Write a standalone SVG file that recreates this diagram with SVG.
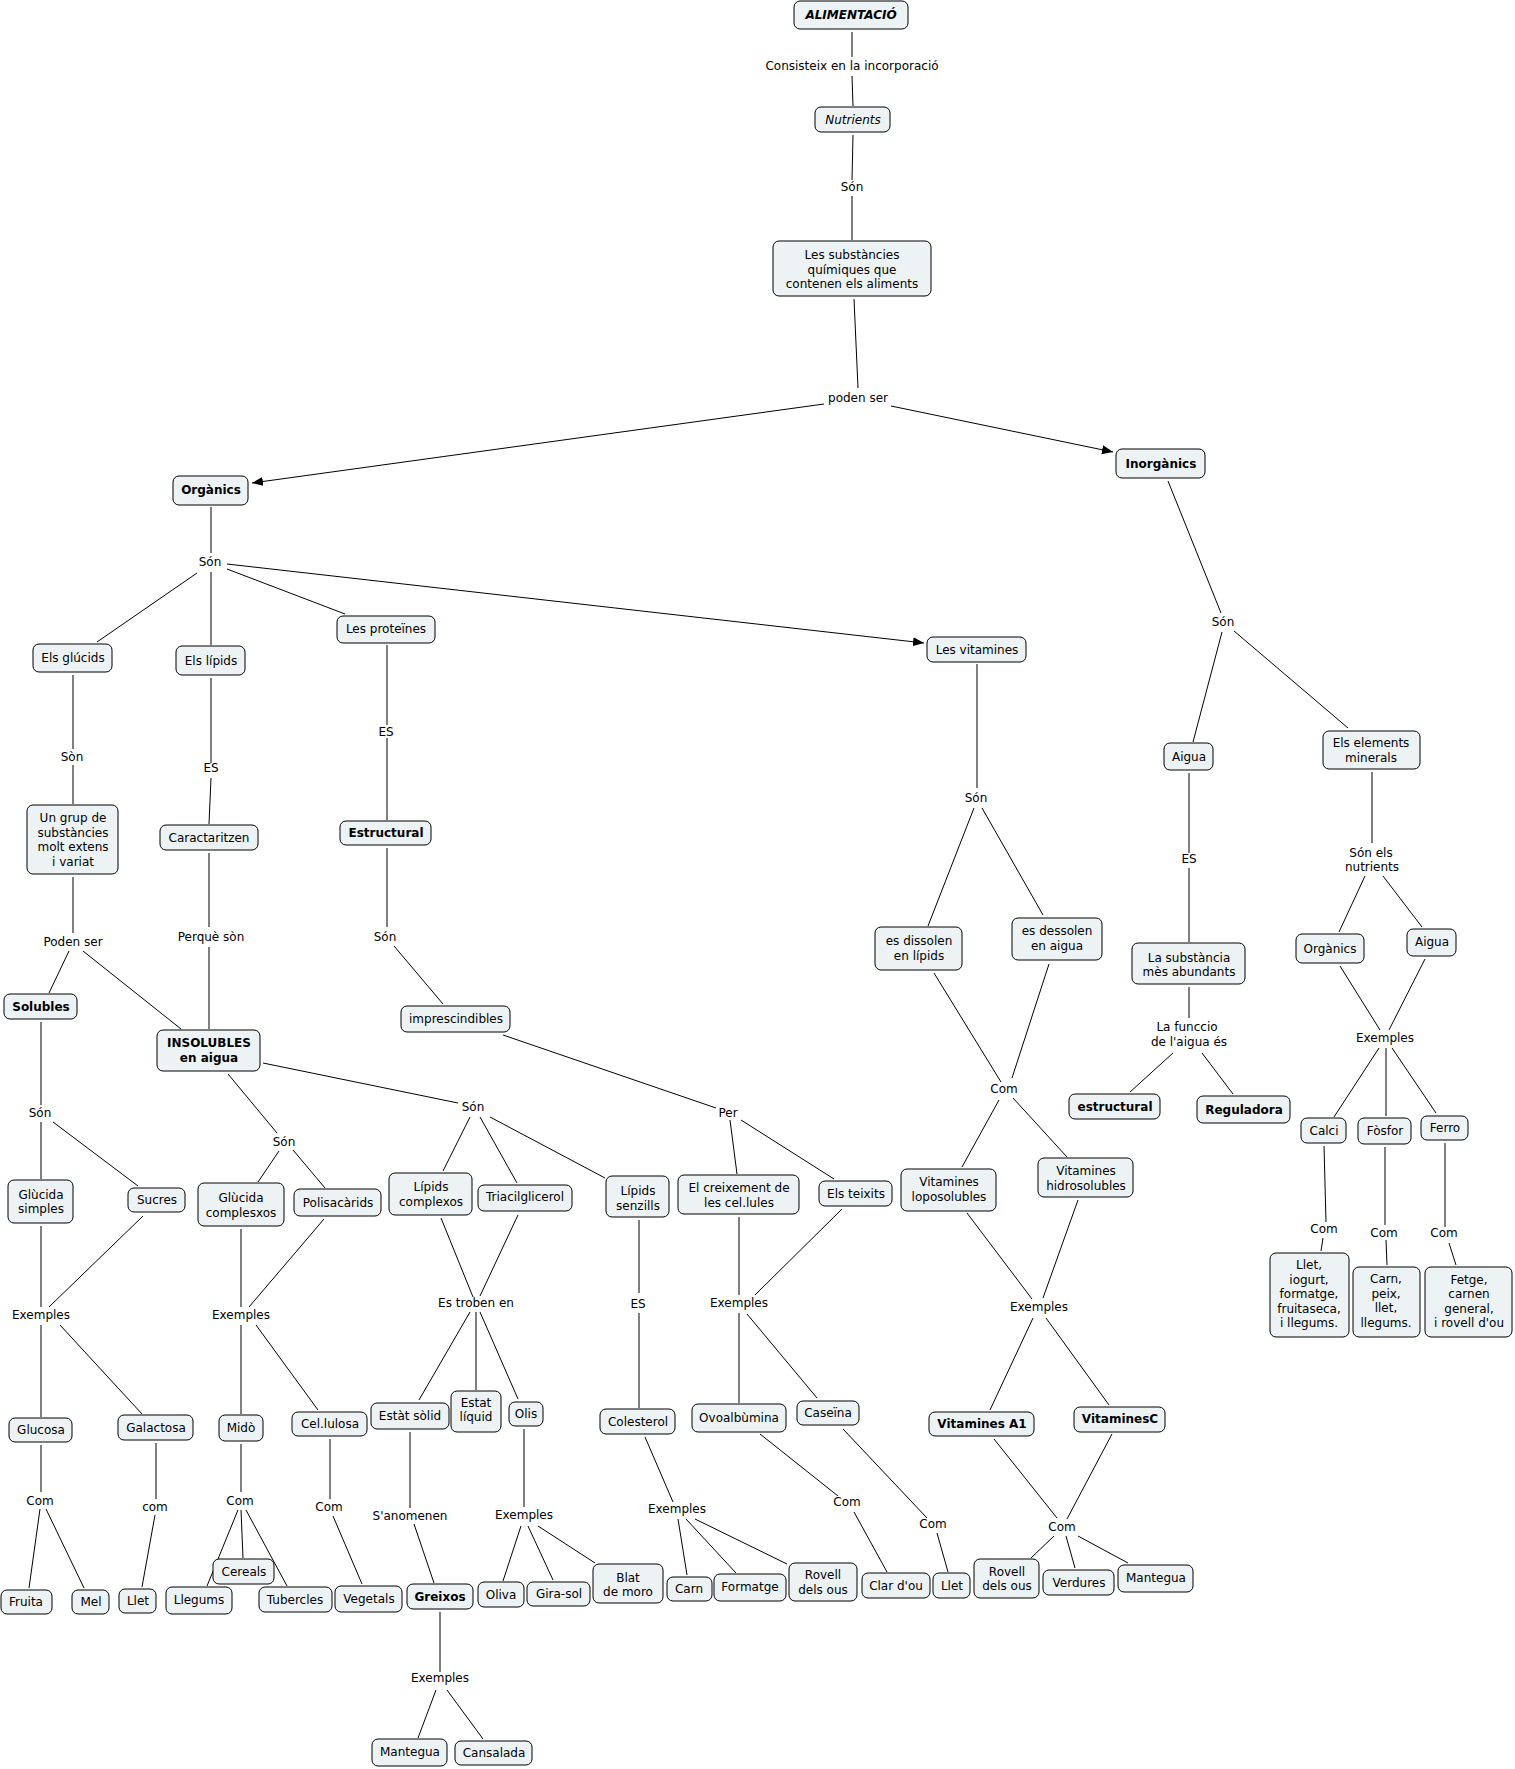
<svg xmlns="http://www.w3.org/2000/svg" width="1515" height="1769" viewBox="0 0 1515 1769">
<style>
.n rect{fill:#edf3f5;stroke:#000;stroke-width:1}
text{font-family:"DejaVu Sans",Verdana,sans-serif;font-size:12px;fill:#000;text-anchor:middle}
.b{font-weight:bold}
.i{font-style:italic}
#connectors line{stroke:#000;stroke-width:1;fill:none}
</style>
<defs>
<marker id="arr" markerUnits="userSpaceOnUse" markerWidth="12" markerHeight="10" refX="11" refY="4.5" orient="auto"><path d="M0,0 L11,4.5 L0,9 z" fill="#000"/></marker>
</defs>
<rect width="1515" height="1769" fill="#fff"/>
<g id="connectors">
<line x1="852" y1="32" x2="852" y2="57"/>
<line x1="852" y1="76" x2="853" y2="106"/>
<line x1="853" y1="135" x2="852" y2="180"/>
<line x1="852" y1="196" x2="852" y2="240"/>
<line x1="854" y1="299" x2="858" y2="388"/>
<line x1="824" y1="404" x2="252" y2="483" marker-end="url(#arr)"/>
<line x1="891" y1="406" x2="1113" y2="452" marker-end="url(#arr)"/>
<line x1="211" y1="507" x2="211" y2="553"/>
<line x1="197" y1="573" x2="97" y2="642"/>
<line x1="211" y1="572" x2="211" y2="645"/>
<line x1="227" y1="569" x2="345" y2="614"/>
<line x1="227" y1="564" x2="924" y2="643" marker-end="url(#arr)"/>
<line x1="73" y1="675" x2="73" y2="749"/>
<line x1="73" y1="765" x2="73" y2="804"/>
<line x1="211" y1="678" x2="211" y2="763"/>
<line x1="211" y1="778" x2="209" y2="824"/>
<line x1="387" y1="645" x2="387" y2="725"/>
<line x1="387" y1="738" x2="387" y2="820"/>
<line x1="73" y1="877" x2="73" y2="933"/>
<line x1="209" y1="853" x2="209" y2="927"/>
<line x1="387" y1="848" x2="387" y2="927"/>
<line x1="69" y1="951" x2="49" y2="993"/>
<line x1="83" y1="951" x2="181" y2="1029"/>
<line x1="209" y1="947" x2="209" y2="1029"/>
<line x1="394" y1="946" x2="443" y2="1004"/>
<line x1="41" y1="1022" x2="41" y2="1105"/>
<line x1="41" y1="1122" x2="41" y2="1179"/>
<line x1="53" y1="1122" x2="138" y2="1186"/>
<line x1="228" y1="1074" x2="277" y2="1133"/>
<line x1="279" y1="1151" x2="258" y2="1182"/>
<line x1="293" y1="1150" x2="325" y2="1188"/>
<line x1="263" y1="1063" x2="458" y2="1103"/>
<line x1="470" y1="1117" x2="443" y2="1171"/>
<line x1="480" y1="1117" x2="517" y2="1183"/>
<line x1="490" y1="1117" x2="605" y2="1178"/>
<line x1="503" y1="1035" x2="716" y2="1108"/>
<line x1="730" y1="1120" x2="737" y2="1174"/>
<line x1="741" y1="1120" x2="834" y2="1179"/>
<line x1="977" y1="664" x2="977" y2="788"/>
<line x1="974" y1="808" x2="928" y2="926"/>
<line x1="982" y1="808" x2="1043" y2="915"/>
<line x1="934" y1="973" x2="1001" y2="1082"/>
<line x1="1049" y1="964" x2="1012" y2="1078"/>
<line x1="999" y1="1100" x2="962" y2="1167"/>
<line x1="1013" y1="1098" x2="1067" y2="1157"/>
<line x1="1168" y1="481" x2="1221" y2="613"/>
<line x1="1222" y1="632" x2="1193" y2="742"/>
<line x1="1234" y1="631" x2="1348" y2="728"/>
<line x1="1189" y1="773" x2="1189" y2="853"/>
<line x1="1189" y1="868" x2="1189" y2="942"/>
<line x1="1372" y1="772" x2="1372" y2="843"/>
<line x1="1365" y1="876" x2="1339" y2="932"/>
<line x1="1383" y1="876" x2="1422" y2="927"/>
<line x1="1189" y1="987" x2="1189" y2="1018"/>
<line x1="1173" y1="1053" x2="1130" y2="1092"/>
<line x1="1202" y1="1053" x2="1233" y2="1094"/>
<line x1="1340" y1="966" x2="1380" y2="1030"/>
<line x1="1425" y1="959" x2="1389" y2="1030"/>
<line x1="1379" y1="1048" x2="1334" y2="1117"/>
<line x1="1386" y1="1048" x2="1386" y2="1116"/>
<line x1="1392" y1="1048" x2="1436" y2="1113"/>
<line x1="1324" y1="1146" x2="1326" y2="1222"/>
<line x1="1323" y1="1238" x2="1321" y2="1251"/>
<line x1="1385" y1="1147" x2="1385" y2="1225"/>
<line x1="1386" y1="1240" x2="1387" y2="1265"/>
<line x1="1445" y1="1143" x2="1445" y2="1227"/>
<line x1="1449" y1="1243" x2="1456" y2="1265"/>
<line x1="41" y1="1226" x2="41" y2="1307"/>
<line x1="143" y1="1216" x2="49" y2="1307"/>
<line x1="41" y1="1325" x2="41" y2="1417"/>
<line x1="60" y1="1325" x2="142" y2="1414"/>
<line x1="241" y1="1229" x2="241" y2="1307"/>
<line x1="324" y1="1219" x2="249" y2="1307"/>
<line x1="241" y1="1325" x2="241" y2="1414"/>
<line x1="256" y1="1325" x2="318" y2="1410"/>
<line x1="441" y1="1218" x2="473" y2="1297"/>
<line x1="518" y1="1215" x2="480" y2="1296"/>
<line x1="470" y1="1312" x2="419" y2="1400"/>
<line x1="476" y1="1312" x2="476" y2="1390"/>
<line x1="480" y1="1312" x2="518" y2="1399"/>
<line x1="639" y1="1220" x2="639" y2="1293"/>
<line x1="639" y1="1313" x2="639" y2="1408"/>
<line x1="739" y1="1217" x2="739" y2="1295"/>
<line x1="842" y1="1209" x2="755" y2="1295"/>
<line x1="739" y1="1313" x2="739" y2="1403"/>
<line x1="747" y1="1314" x2="817" y2="1398"/>
<line x1="967" y1="1213" x2="1032" y2="1299"/>
<line x1="1078" y1="1200" x2="1043" y2="1298"/>
<line x1="1033" y1="1318" x2="990" y2="1410"/>
<line x1="1046" y1="1318" x2="1109" y2="1405"/>
<line x1="41" y1="1445" x2="41" y2="1492"/>
<line x1="40" y1="1509" x2="29" y2="1588"/>
<line x1="46" y1="1509" x2="84" y2="1588"/>
<line x1="156" y1="1443" x2="156" y2="1499"/>
<line x1="155" y1="1515" x2="142" y2="1587"/>
<line x1="241" y1="1444" x2="241" y2="1492"/>
<line x1="238" y1="1510" x2="207" y2="1586"/>
<line x1="241" y1="1510" x2="243" y2="1558"/>
<line x1="246" y1="1510" x2="287" y2="1586"/>
<line x1="330" y1="1439" x2="330" y2="1499"/>
<line x1="333" y1="1516" x2="362" y2="1584"/>
<line x1="410" y1="1432" x2="410" y2="1508"/>
<line x1="414" y1="1524" x2="434" y2="1583"/>
<line x1="440" y1="1612" x2="440" y2="1672"/>
<line x1="436" y1="1690" x2="418" y2="1738"/>
<line x1="447" y1="1690" x2="483" y2="1739"/>
<line x1="524" y1="1429" x2="524" y2="1507"/>
<line x1="521" y1="1526" x2="503" y2="1581"/>
<line x1="528" y1="1526" x2="553" y2="1580"/>
<line x1="538" y1="1526" x2="595" y2="1563"/>
<line x1="645" y1="1437" x2="673" y2="1502"/>
<line x1="678" y1="1519" x2="687" y2="1575"/>
<line x1="686" y1="1519" x2="736" y2="1573"/>
<line x1="695" y1="1519" x2="787" y2="1564"/>
<line x1="760" y1="1434" x2="838" y2="1496"/>
<line x1="854" y1="1512" x2="887" y2="1572"/>
<line x1="843" y1="1429" x2="927" y2="1518"/>
<line x1="937" y1="1533" x2="948" y2="1572"/>
<line x1="994" y1="1439" x2="1057" y2="1518"/>
<line x1="1112" y1="1434" x2="1067" y2="1519"/>
<line x1="1054" y1="1536" x2="1031" y2="1558"/>
<line x1="1066" y1="1536" x2="1075" y2="1568"/>
<line x1="1078" y1="1536" x2="1128" y2="1563"/>
</g>
<g id="linking-phrases">
<g id="lp1"><text x="852" y="70">Consisteix en la incorporació</text></g>
<g id="lp2"><text x="852" y="191">Són</text></g>
<g id="lp3"><text x="858" y="402">poden ser</text></g>
<g id="lp4"><text x="210" y="566">Són</text></g>
<g id="lp5"><text x="1223" y="626">Són</text></g>
<g id="lp6"><text x="72" y="761">Sòn</text></g>
<g id="lp7"><text x="211" y="772">ES</text></g>
<g id="lp8"><text x="386" y="736">ES</text></g>
<g id="lp9"><text x="976" y="802">Són</text></g>
<g id="lp10"><text x="1189" y="863">ES</text></g>
<g id="lp11"><text><tspan x="1371" y="857">Són els</tspan><tspan x="1372" y="871">nutrients</tspan></text></g>
<g id="lp12"><text x="73" y="946">Poden ser</text></g>
<g id="lp13"><text x="211" y="941">Perquè sòn</text></g>
<g id="lp14"><text x="385" y="941">Són</text></g>
<g id="lp15"><text x="40" y="1117">Són</text></g>
<g id="lp16"><text x="284" y="1146">Són</text></g>
<g id="lp17"><text x="473" y="1111">Són</text></g>
<g id="lp18"><text x="728" y="1117">Per</text></g>
<g id="lp19"><text x="1004" y="1093">Com</text></g>
<g id="lp20"><text><tspan x="1187" y="1031">La funccio</tspan><tspan x="1189" y="1046">de l'aigua és</tspan></text></g>
<g id="lp21"><text x="1385" y="1042">Exemples</text></g>
<g id="lp22"><text x="41" y="1319">Exemples</text></g>
<g id="lp23"><text x="241" y="1319">Exemples</text></g>
<g id="lp24"><text x="476" y="1307">Es troben en</text></g>
<g id="lp25"><text x="638" y="1308">ES</text></g>
<g id="lp26"><text x="739" y="1307">Exemples</text></g>
<g id="lp27"><text x="1039" y="1311">Exemples</text></g>
<g id="lp28"><text x="1324" y="1233">Com</text></g>
<g id="lp29"><text x="1384" y="1237">Com</text></g>
<g id="lp30"><text x="1444" y="1237">Com</text></g>
<g id="lp31"><text x="40" y="1505">Com</text></g>
<g id="lp32"><text x="155" y="1511">com</text></g>
<g id="lp33"><text x="240" y="1505">Com</text></g>
<g id="lp34"><text x="329" y="1511">Com</text></g>
<g id="lp35"><text x="410" y="1520">S'anomenen</text></g>
<g id="lp36"><text x="524" y="1519">Exemples</text></g>
<g id="lp37"><text x="677" y="1513">Exemples</text></g>
<g id="lp38"><text x="847" y="1506">Com</text></g>
<g id="lp39"><text x="933" y="1528">Com</text></g>
<g id="lp40"><text x="1062" y="1531">Com</text></g>
<g id="lp41"><text x="440" y="1682">Exemples</text></g>
</g>
<g id="n-alimentacio" class="n"><rect x="794" y="1" width="114" height="28" rx="6"/><text x="851" y="19" class="b i">ALIMENTACIÓ</text></g>
<g id="n-nutrients" class="n"><rect x="815" y="107" width="75" height="25" rx="6"/><text x="853" y="124" class="i">Nutrients</text></g>
<g id="n-substancies" class="n"><rect x="773" y="241" width="158" height="55" rx="6"/><text><tspan x="852" y="259">Les substàncies</tspan><tspan x="852" y="273.5">químiques que</tspan><tspan x="852" y="288">contenen els aliments</tspan></text></g>
<g id="n-organics" class="n"><rect x="173" y="476" width="75" height="29" rx="6"/><text x="211" y="494" class="b">Orgànics</text></g>
<g id="n-inorganics" class="n"><rect x="1116" y="449" width="89" height="29" rx="6"/><text x="1161" y="468" class="b">Inorgànics</text></g>
<g id="n-glucids" class="n"><rect x="33" y="644" width="79" height="28" rx="6"/><text x="73" y="662">Els glúcids</text></g>
<g id="n-lipids" class="n"><rect x="176" y="646" width="69" height="29" rx="6"/><text x="211" y="665">Els lípids</text></g>
<g id="n-proteines" class="n"><rect x="337" y="616" width="98" height="27" rx="6"/><text x="386" y="632.5">Les proteïnes</text></g>
<g id="n-vitamines" class="n"><rect x="927" y="637" width="99" height="25" rx="6"/><text x="977" y="653.5">Les vitamines</text></g>
<g id="n-ungrup" class="n"><rect x="27" y="805" width="91" height="69" rx="6"/><text><tspan x="73" y="822">Un grup de</tspan><tspan x="73" y="836.5">substàncies</tspan><tspan x="73" y="851">molt extens</tspan><tspan x="73" y="865.5">i variat</tspan></text></g>
<g id="n-caract" class="n"><rect x="160" y="825" width="98" height="25" rx="6"/><text x="209" y="842">Caractaritzen</text></g>
<g id="n-estructural1" class="n"><rect x="340" y="821" width="91" height="24" rx="6"/><text x="386" y="837" class="b">Estructural</text></g>
<g id="n-solubles" class="n"><rect x="4" y="994" width="73" height="25" rx="6"/><text x="41" y="1011" class="b">Solubles</text></g>
<g id="n-insolubles" class="n"><rect x="157" y="1030" width="103" height="41" rx="6"/><text class="b"><tspan x="209" y="1047">INSOLUBLES</tspan><tspan x="209" y="1061.5">en aigua</tspan></text></g>
<g id="n-imprescindibles" class="n"><rect x="401" y="1006" width="109" height="26" rx="6"/><text x="456" y="1023">imprescindibles</text></g>
<g id="n-gsimples" class="n"><rect x="8" y="1180" width="65" height="43" rx="6"/><text><tspan x="41" y="1198.5">Glùcida</tspan><tspan x="41" y="1213">simples</tspan></text></g>
<g id="n-sucres" class="n"><rect x="128" y="1188" width="57" height="24" rx="6"/><text x="157" y="1204">Sucres</text></g>
<g id="n-gcomplexos" class="n"><rect x="198" y="1183" width="86" height="43" rx="6"/><text><tspan x="241" y="1202">Glùcida</tspan><tspan x="241" y="1216.5">complesxos</tspan></text></g>
<g id="n-polisacarids" class="n"><rect x="294" y="1189" width="87" height="27" rx="6"/><text x="338" y="1207">Polisacàrids</text></g>
<g id="n-lcomplexos" class="n"><rect x="389" y="1173" width="83" height="42" rx="6"/><text><tspan x="431" y="1191">Lípids</tspan><tspan x="431" y="1205.5">complexos</tspan></text></g>
<g id="n-triacil" class="n"><rect x="478" y="1185" width="94" height="26" rx="6"/><text x="525" y="1201">Triacilglicerol</text></g>
<g id="n-lsenzills" class="n"><rect x="606" y="1176" width="63" height="41" rx="6"/><text><tspan x="638" y="1195">Lípids</tspan><tspan x="638" y="1209.5">senzills</tspan></text></g>
<g id="n-creixement" class="n"><rect x="678" y="1175" width="121" height="39" rx="6"/><text><tspan x="739" y="1192">El creixement de</tspan><tspan x="739" y="1206.5">les cel.lules</tspan></text></g>
<g id="n-teixits" class="n"><rect x="819" y="1181" width="73" height="25" rx="6"/><text x="856" y="1197.5">Els teixits</text></g>
<g id="n-vlipo" class="n"><rect x="901" y="1169" width="95" height="42" rx="6"/><text><tspan x="949" y="1186">Vitamines</tspan><tspan x="949" y="1200.5">loposolubles</tspan></text></g>
<g id="n-vhidro" class="n"><rect x="1038" y="1158" width="95" height="39" rx="6"/><text><tspan x="1086" y="1175">Vitamines</tspan><tspan x="1086" y="1189.5">hidrosolubles</tspan></text></g>
<g id="n-dissolen" class="n"><rect x="875" y="927" width="87" height="43" rx="6"/><text><tspan x="919" y="945">es dissolen</tspan><tspan x="919" y="959.5">en lípids</tspan></text></g>
<g id="n-dessolen" class="n"><rect x="1012" y="918" width="90" height="42" rx="6"/><text><tspan x="1057" y="935">es dessolen</tspan><tspan x="1057" y="949.5">en aigua</tspan></text></g>
<g id="n-aigua1" class="n"><rect x="1164" y="743" width="49" height="27" rx="6"/><text x="1189" y="760.5">Aigua</text></g>
<g id="n-elements" class="n"><rect x="1323" y="731" width="97" height="38" rx="6"/><text><tspan x="1371" y="747">Els elements</tspan><tspan x="1371" y="761.5">minerals</tspan></text></g>
<g id="n-substancia" class="n"><rect x="1132" y="943" width="113" height="41" rx="6"/><text><tspan x="1189" y="962">La substància</tspan><tspan x="1189" y="976">mès abundants</tspan></text></g>
<g id="n-estructural2" class="n"><rect x="1069" y="1094" width="91" height="25" rx="6"/><text x="1115" y="1111" class="b">estructural</text></g>
<g id="n-reguladora" class="n"><rect x="1197" y="1096" width="93" height="27" rx="6"/><text x="1244" y="1113.5" class="b">Reguladora</text></g>
<g id="n-organics2" class="n"><rect x="1296" y="934" width="68" height="29" rx="6"/><text x="1330" y="952.5">Orgànics</text></g>
<g id="n-aigua2" class="n"><rect x="1407" y="929" width="49" height="27" rx="6"/><text x="1432" y="945.5">Aigua</text></g>
<g id="n-calci" class="n"><rect x="1301" y="1118" width="45" height="25" rx="6"/><text x="1324" y="1135">Calci</text></g>
<g id="n-fosfor" class="n"><rect x="1358" y="1118" width="53" height="26" rx="6"/><text x="1385" y="1135">Fòsfor</text></g>
<g id="n-ferro" class="n"><rect x="1421" y="1116" width="47" height="24" rx="6"/><text x="1445" y="1132">Ferro</text></g>
<g id="n-lletiogurt" class="n"><rect x="1270" y="1253" width="79" height="84" rx="6"/><text><tspan x="1309" y="1269">Llet,</tspan><tspan x="1309" y="1283.5">iogurt,</tspan><tspan x="1309" y="1298">formatge,</tspan><tspan x="1309" y="1312.5">fruitaseca,</tspan><tspan x="1309" y="1327">i llegums.</tspan></text></g>
<g id="n-carnpeix" class="n"><rect x="1353" y="1267" width="67" height="70" rx="6"/><text><tspan x="1386" y="1283">Carn,</tspan><tspan x="1386" y="1297.5">peix,</tspan><tspan x="1386" y="1312">llet,</tspan><tspan x="1386" y="1326.5">llegums.</tspan></text></g>
<g id="n-fetge" class="n"><rect x="1425" y="1267" width="87" height="70" rx="6"/><text><tspan x="1469" y="1284">Fetge,</tspan><tspan x="1469" y="1298">carnen</tspan><tspan x="1469" y="1312.5">general,</tspan><tspan x="1469" y="1327">i rovell d'ou</tspan></text></g>
<g id="n-glucosa" class="n"><rect x="9" y="1418" width="63" height="24" rx="6"/><text x="41" y="1434">Glucosa</text></g>
<g id="n-galactosa" class="n"><rect x="118" y="1415" width="75" height="25" rx="6"/><text x="156" y="1431.5">Galactosa</text></g>
<g id="n-mido" class="n"><rect x="219" y="1415" width="44" height="26" rx="6"/><text x="241" y="1432">Midò</text></g>
<g id="n-cellulosa" class="n"><rect x="292" y="1412" width="75" height="24" rx="6"/><text x="330" y="1428">Cel.lulosa</text></g>
<g id="n-estatsolid" class="n"><rect x="371" y="1403" width="78" height="26" rx="6"/><text x="410" y="1420">Estàt sòlid</text></g>
<g id="n-estatliquid" class="n"><rect x="451" y="1391" width="50" height="41" rx="6"/><text><tspan x="476" y="1407">Estat</tspan><tspan x="476" y="1421">líquid</tspan></text></g>
<g id="n-olis" class="n"><rect x="509" y="1402" width="34" height="24" rx="6"/><text x="526" y="1418">Olis</text></g>
<g id="n-colesterol" class="n"><rect x="600" y="1409" width="75" height="25" rx="6"/><text x="638" y="1426">Colesterol</text></g>
<g id="n-ovoalbumina" class="n"><rect x="692" y="1404" width="94" height="28" rx="6"/><text x="739" y="1422">Ovoalbùmina</text></g>
<g id="n-caseina" class="n"><rect x="797" y="1401" width="62" height="24" rx="6"/><text x="828" y="1417">Caseïna</text></g>
<g id="n-vita1" class="n"><rect x="929" y="1412" width="105" height="24" rx="6"/><text x="982" y="1428" class="b">Vitamines A1</text></g>
<g id="n-vitc" class="n"><rect x="1074" y="1407" width="91" height="25" rx="6"/><text x="1120" y="1423" class="b">VitaminesC</text></g>
<g id="n-fruita" class="n"><rect x="1" y="1590" width="51" height="24" rx="6"/><text x="26" y="1606">Fruita</text></g>
<g id="n-mel" class="n"><rect x="72" y="1590" width="37" height="24" rx="6"/><text x="91" y="1606">Mel</text></g>
<g id="n-llet1" class="n"><rect x="119" y="1589" width="37" height="24" rx="6"/><text x="138" y="1605">Llet</text></g>
<g id="n-llegums" class="n"><rect x="166" y="1587" width="66" height="27" rx="6"/><text x="199" y="1604">Llegums</text></g>
<g id="n-cereals" class="n"><rect x="213" y="1559" width="61" height="25" rx="6"/><text x="244" y="1575.5">Cereals</text></g>
<g id="n-tubercles" class="n"><rect x="259" y="1587" width="73" height="25" rx="6"/><text x="295" y="1604">Tubercles</text></g>
<g id="n-vegetals" class="n"><rect x="335" y="1586" width="67" height="26" rx="6"/><text x="369" y="1602.5">Vegetals</text></g>
<g id="n-greixos" class="n"><rect x="407" y="1584" width="66" height="25" rx="6"/><text x="440" y="1601" class="b">Greixos</text></g>
<g id="n-oliva" class="n"><rect x="478" y="1582" width="46" height="25" rx="6"/><text x="501" y="1598.5">Oliva</text></g>
<g id="n-girasol" class="n"><rect x="527" y="1582" width="63" height="24" rx="6"/><text x="559" y="1598">Gira-sol</text></g>
<g id="n-blat" class="n"><rect x="593" y="1564" width="70" height="39" rx="6"/><text><tspan x="628" y="1581.5">Blat</tspan><tspan x="628" y="1596">de moro</tspan></text></g>
<g id="n-carn" class="n"><rect x="667" y="1577" width="45" height="24" rx="6"/><text x="689" y="1592.5">Carn</text></g>
<g id="n-formatge" class="n"><rect x="714" y="1574" width="72" height="27" rx="6"/><text x="750" y="1591">Formatge</text></g>
<g id="n-rovell1" class="n"><rect x="789" y="1563" width="68" height="38" rx="6"/><text><tspan x="823" y="1579">Rovell</tspan><tspan x="823" y="1593.5">dels ous</tspan></text></g>
<g id="n-clardou" class="n"><rect x="862" y="1573" width="68" height="25" rx="6"/><text x="896" y="1590">Clar d'ou</text></g>
<g id="n-llet2" class="n"><rect x="933" y="1573" width="37" height="25" rx="6"/><text x="952" y="1590">Llet</text></g>
<g id="n-rovell2" class="n"><rect x="974" y="1559" width="65" height="39" rx="6"/><text><tspan x="1007" y="1576">Rovell</tspan><tspan x="1007" y="1590">dels ous</tspan></text></g>
<g id="n-verdures" class="n"><rect x="1043" y="1570" width="71" height="25" rx="6"/><text x="1079" y="1587">Verdures</text></g>
<g id="n-mantegua2" class="n"><rect x="1118" y="1565" width="75" height="27" rx="6"/><text x="1156" y="1582">Mantegua</text></g>
<g id="n-mantegua1" class="n"><rect x="372" y="1739" width="75" height="27" rx="6"/><text x="410" y="1756">Mantegua</text></g>
<g id="n-cansalada" class="n"><rect x="455" y="1741" width="77" height="24" rx="6"/><text x="494" y="1757">Cansalada</text></g>
</svg>
